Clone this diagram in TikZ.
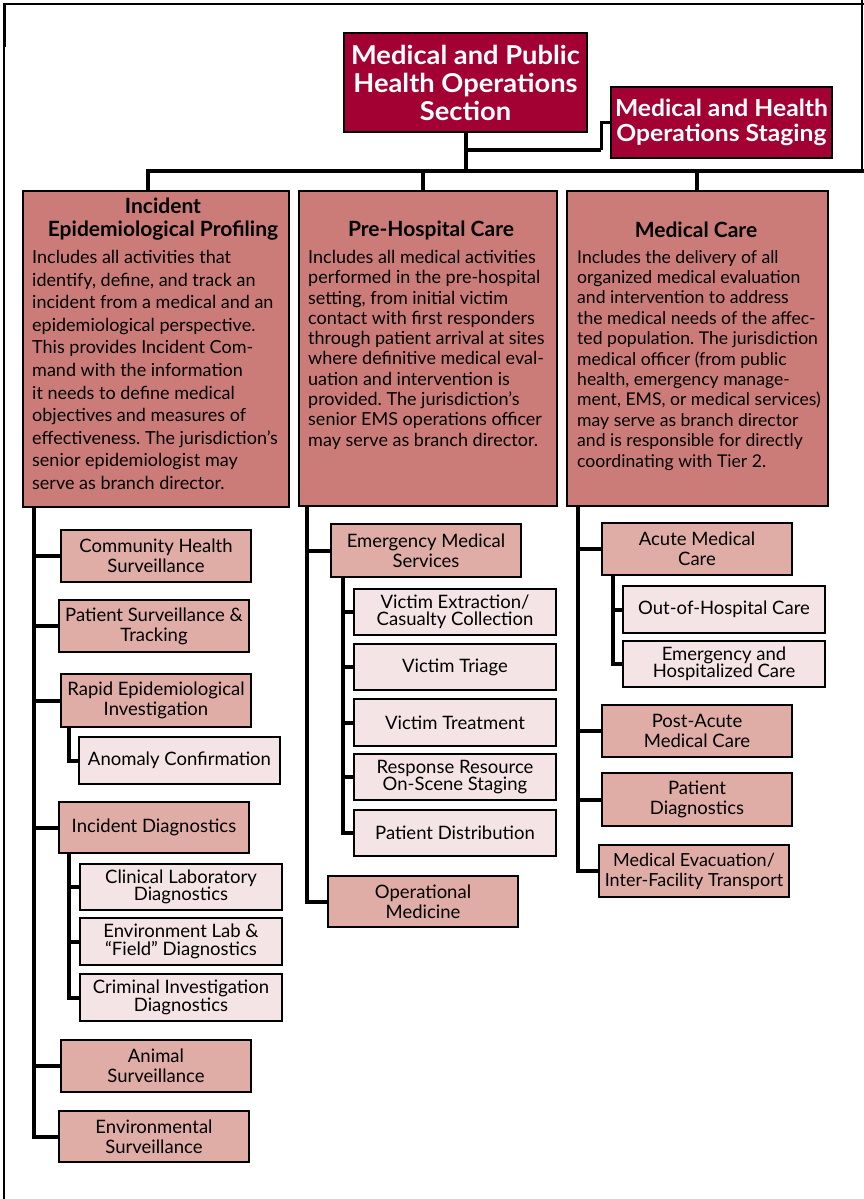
\documentclass[tikz,border=0pt]{standalone}
\usepackage{fontspec}
\setmainfont{Lato}
\newfontfamily\hdfont{Lato}[FakeStretch=1.05]
\definecolor{crimson}{HTML}{A30033}
\definecolor{rose}{HTML}{CC7C78}
\definecolor{pinkA}{HTML}{E0ACA6}
\definecolor{pinkB}{HTML}{F5E4E6}
\frenchspacing
\begin{document}
\begin{tikzpicture}[x=1pt,y=-1pt,
  conn/.style={line width=4pt},
  frame/.style={line width=2pt},
  bx/.style={draw=black,line width=2pt,inner sep=0pt,align=center},
  hd/.style={bx,fill=crimson,text=white,font=\hdfont\bfseries\fontsize{26}{28}\selectfont},
  br/.style={bx,fill=rose},
  brtitle/.style={inner sep=0pt,align=center,font=\bfseries\fontsize{21}{23}\selectfont},
  brbody/.style={inner sep=0pt,align=left,anchor=north west},
  sb/.style={bx,fill=pinkA,minimum width=190,minimum height=52,font=\fontsize{18.5}{20}\selectfont},
  ssb/.style={bx,fill=pinkB,minimum width=202,minimum height=46,font=\fontsize{18.5}{17.5}\selectfont}]
\useasboundingbox (0,0) rectangle (864,1199);
% frame
\draw[frame] (4,1199) -- (4,4) -- (864,4);
\draw[frame] (862,0) -- (862,171);
\draw[line width=3pt] (4,5) -- (4,47);
% top
\node[hd,minimum width=243,minimum height=99] (main) at (465.5,82.5) {Medical and Public\\Health Operations\\Section};
\node[hd,minimum width=221,minimum height=71,font=\hdfont\bfseries\fontsize{23.5}{25}\selectfont] (stag) at (721.5,122.5) {Medical and Health\\Operations Staging};
% branches
\node[br,minimum width=266,minimum height=316] (b1) at (156,349) {};
\node[br,minimum width=258,minimum height=315] (b2) at (428,348.5) {};
\node[br,minimum width=261,minimum height=315] (b3) at (697.5,348.5) {};
\node[brtitle] (b1t) at (163,219) {Incident\\Epidemiological Profiling};
\node[brtitle] (b2t) at (431,230) {Pre-Hospital Care};
\node[brtitle] (b3t) at (696,230) {Medical Care};
\node[brbody,font=\fontsize{18}{22.6}\selectfont] (b1b) at (32,250) {Includes all activities that\\
identify, define, and track an\\
incident from a medical and an\\
epidemiological perspective.\\
This provides Incident Com-\\
mand with the information\\
it needs to define medical\\
objectives and measures of\\
effectiveness. The jurisdiction’s\\
senior epidemiologist may\\
serve as branch director.};
\node[brbody,font=\fontsize{18}{20.3}\selectfont] (b2b) at (308,250) {Includes all medical activities\\
performed in the pre-hospital\\
setting, from initial victim\\
contact with first responders\\
through patient arrival at sites\\
where definitive medical eval-\\
uation and intervention is\\
provided. The jurisdiction’s\\
senior EMS operations officer\\
may serve as branch director.};
\node[brbody,font=\fontsize{17.6}{20.4}\selectfont] (b3b) at (577,250) {Includes the delivery of all\\
organized medical evaluation\\
and intervention to address\\
the medical needs of the affec-\\
ted population. The jurisdiction\\
medical officer (from public\\
health, emergency manage-\\
ment, EMS, or medical services)\\
may serve as branch director\\
and is responsible for directly\\
coordinating with Tier 2.};
% top connectors
\coordinate (busL) at (146,171);
\coordinate (busR) at (864,171);
\coordinate (mb) at (main.south |- busL);
\coordinate (el) at (601,150);
\coordinate (d1) at (148,171);
\coordinate (d2) at (423,171);
\coordinate (d3) at (697,171);
\draw[conn] (main.south) -- (mb);
\draw[conn] (busL) -- (busR);
\draw[conn] (main.south |- el) -- (el);
\draw[line width=3pt] (el) |- (stag.west);
\draw[conn] (d1) -- (d1 |- b1.north);
\draw[conn] (d2) -- (d2 |- b2.north);
\draw[conn] (d3) -- (d3 |- b3.north);
% column 1
\node[sb] (chs) at (156,556) {Community Health\\Surveillance};
\node[sb] (pst) at (154,626) {Patient Surveillance \&\\Tracking};
\node[sb,minimum height=53] (rei) at (156,700.5) {Rapid Epidemiological\\Investigation};
\node[ssb,minimum width=201,minimum height=47] (ac) at (179.5,760.5) {Anomaly Confirmation};
\node[sb,minimum height=51] (idg) at (154,827.5) {Incident Diagnostics};
\node[ssb] (cld) at (181,887) {Clinical Laboratory\\Diagnostics};
\node[ssb,minimum height=47] (eld) at (181,941.5) {Environment Lab \&\\“Field” Diagnostics};
\node[ssb,minimum height=47] (cid) at (181,997.5) {Criminal Investigation\\Diagnostics};
\node[sb] (ans) at (156,1066) {Animal\\Surveillance};
\node[sb,minimum height=51] (evs) at (154,1136.5) {Environmental\\Surveillance};
\coordinate (t1) at (34,507);
\foreach \n in {chs,pst,rei,idg,ans,evs} \draw[conn] (t1) |- (\n.west);
\coordinate (t1a) at (69,727);
\draw[conn] (t1a) |- (ac.west);
\coordinate (t1b) at (69,853);
\foreach \n in {cld,eld,cid} \draw[conn] (t1b) |- (\n.west);
% column 2
\node[sb,minimum height=53] (ems) at (426,550.5) {Emergency Medical\\Services};
\node[ssb] (vec) at (455,612) {Victim Extraction/\\Casualty Collection};
\node[ssb] (vtr) at (455,667) {Victim Triage};
\node[ssb,minimum height=47] (vtm) at (455,722.5) {Victim Treatment};
\node[ssb] (rrs) at (455,777) {Response Resource\\On-Scene Staging};
\node[ssb] (pdi) at (455,833) {Patient Distribution};
\node[sb,minimum height=51] (om) at (423,901.5) {Operational\\Medicine};
\coordinate (t2) at (307,506);
\foreach \n in {ems,om} \draw[conn] (t2) |- (\n.west);
\coordinate (t2a) at (343,577);
\foreach \n in {vec,vtr,vtm,rrs,pdi} \draw[conn] (t2a) |- (\n.west);
% column 3
\node[sb] (amc) at (697,549) {Acute Medical\\Care};
\node[ssb,minimum height=47] (ohc) at (724,609.5) {Out-of-Hospital Care};
\node[ssb] (ehc) at (724,664) {Emergency and\\Hospitalized Care};
\node[sb] (pam) at (697,731) {Post-Acute\\Medical Care};
\node[sb,minimum height=53] (pdg) at (697,799.5) {Patient\\Diagnostics};
\node[sb,font=\fontsize{18}{20}\selectfont] (mev) at (694,871) {Medical Evacuation/\\Inter-Facility Transport};
\coordinate (t3) at (578,506);
\foreach \n in {amc,pam,pdg,mev} \draw[conn] (t3) |- (\n.west);
\coordinate (t3a) at (613,575);
\foreach \n in {ohc,ehc} \draw[conn] (t3a) |- (\n.west);
\end{tikzpicture}
\end{document}
